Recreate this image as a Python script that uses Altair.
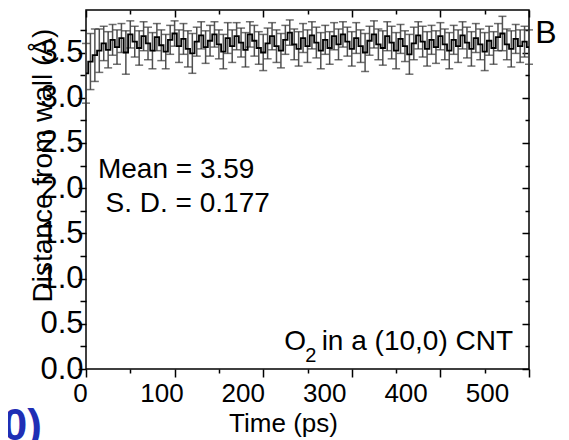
import altair as alt
import pandas as pd

# ---------------- data ----------------
time_ps = list(range(0, 505, 5))
distance = [3.27, 3.40, 3.47, 3.52, 3.60, 3.53, 3.64, 3.56, 3.66, 3.50,
            3.70, 3.62, 3.55, 3.68, 3.60, 3.52, 3.67, 3.58, 3.51, 3.64,
            3.71, 3.57, 3.65, 3.54, 3.49, 3.62, 3.69, 3.56, 3.63, 3.70,
            3.59, 3.51, 3.66, 3.57, 3.68, 3.61, 3.53, 3.70, 3.63, 3.55,
            3.50, 3.60, 3.68, 3.57, 3.52, 3.64, 3.72, 3.59, 3.54, 3.66,
            3.57, 3.69, 3.61, 3.52, 3.64, 3.55, 3.68, 3.59, 3.70, 3.62,
            3.54, 3.66, 3.57, 3.50, 3.63, 3.70, 3.59, 3.55, 3.68, 3.61,
            3.52, 3.65, 3.57, 3.48, 3.60, 3.69, 3.62, 3.54, 3.64, 3.56,
            3.68, 3.59, 3.52, 3.64, 3.57, 3.69, 3.61, 3.54, 3.66, 3.59,
            3.51, 3.63, 3.55, 3.67, 3.71, 3.59, 3.54, 3.65, 3.57, 3.62,
            3.56]
sd = [0.33, 0.31, 0.29, 0.24, 0.19, 0.20, 0.17, 0.19, 0.16, 0.24,
      0.15, 0.17, 0.19, 0.16, 0.18, 0.20, 0.15, 0.17, 0.19, 0.16,
      0.14, 0.18, 0.17, 0.20, 0.22, 0.16, 0.15, 0.18, 0.17, 0.14,
      0.16, 0.19, 0.17, 0.18, 0.15, 0.16, 0.19, 0.14, 0.17, 0.18,
      0.20, 0.17, 0.15, 0.18, 0.19, 0.16, 0.14, 0.17, 0.19, 0.16,
      0.18, 0.15, 0.17, 0.20, 0.16, 0.18, 0.15, 0.17, 0.14, 0.16,
      0.19, 0.17, 0.18, 0.21, 0.16, 0.15, 0.17, 0.19, 0.16, 0.18,
      0.20, 0.16, 0.17, 0.22, 0.18, 0.15, 0.17, 0.19, 0.16, 0.18,
      0.15, 0.17, 0.20, 0.16, 0.18, 0.15, 0.17, 0.19, 0.16, 0.17,
      0.21, 0.16, 0.18, 0.15, 0.19, 0.17, 0.20, 0.16, 0.18, 0.17,
      0.19]

x_major = [0, 100, 200, 300, 400, 500]
x_minor = [50, 150, 250, 350, 450]
y_major = [0.0, 0.5, 1.0, 1.5, 2.0, 2.5, 3.0, 3.5]
y_minor = [0.25, 0.75, 1.25, 1.75, 2.25, 2.75, 3.25, 3.75]

# annotation texts (data coordinates)
left_texts = ["Mean = 3.59", "S. D. = 0.177"]
left_x = [13.5, 22.1]
left_y = [2.108, 1.733]
panel_texts = ["B"]
panel_x = [507]
panel_y = [3.61]
right_texts = ["O", " in a (10,0) CNT"]
right_x = [248.3, 482]
right_y = [0.21, 0.21]
sub_texts = ["2"]
sub_x = [247.5]
sub_y = [0.077]
blue_texts = ["0)"]
blue_x = [-49.7]
blue_y = [-0.78]

X_DOM = [0, 500]
Y_DOM = [0, 3.97]
LABEL_RANGE = [-6, 401]   # tick labels of the reference sit on a slightly tighter spacing

FONT = "Liberation Sans"

df = pd.DataFrame({"t": time_ps, "d": distance,
                   "lo": [a - b for a, b in zip(distance, sd)],
                   "hi": [a + b for a, b in zip(distance, sd)]})


def tick_axis(orient, values, size, offset=0):
    return alt.Axis(orient=orient, values=values, tickSize=size, offset=offset,
                    labels=False, domain=False, grid=False, title="",
                    tickColor="black", tickWidth=1.5)


def xs(field, axis, scale=None):
    if scale is None:
        scale = alt.Scale(domain=X_DOM, nice=False, zero=False)
    return alt.X(f"{field}:Q", scale=scale, axis=axis)


def ys(field, axis):
    return alt.Y(f"{field}:Q", scale=alt.Scale(domain=Y_DOM, nice=False, zero=False), axis=axis)


base = alt.Chart(df)

left_axis = alt.Axis(orient="left", values=y_major, tickSize=8, labelPadding=-5,
                     format=".1f", labelFontSize=31, labelFont=FONT, labelColor="black",
                     domain=False, grid=False, tickColor="black", tickWidth=1.5,
                     title="Distance from wall (Å)", titleFontSize=28, titleFont=FONT,
                     titleFontWeight="normal", titleColor="black", titleAngle=270,
                     titleX=-35, titleY=155, titleAlign="center", titleBaseline="alphabetic")

bars = base.mark_rule(color="#505050", strokeWidth=1.5).encode(
    x=xs("t", tick_axis("bottom", x_major, 8)),
    y=ys("lo", left_axis),
    y2="hi",
)
caps_lo = base.mark_tick(orient="horizontal", size=8, thickness=1.5, color="#333333").encode(
    x=xs("t", tick_axis("bottom", x_minor, 4)),
    y=ys("lo", tick_axis("left", y_minor, 6)),
)
caps_hi = base.mark_tick(orient="horizontal", size=8, thickness=1.5, color="#333333").encode(
    x=xs("t", tick_axis("top", x_major, 7, offset=-7)),
    y=ys("hi", tick_axis("right", y_major, 7, offset=-7)),
)
line = base.mark_line(color="black", strokeWidth=1.8, interpolate="step").encode(
    x=xs("t", tick_axis("top", x_minor, 4, offset=-4)),
    y=ys("d", tick_axis("right", y_minor, 4, offset=-4)),
)

label_axis = alt.Axis(orient="bottom", values=x_major, ticks=False, domain=False, grid=False,
                      labelPadding=11, labelFontSize=26, labelFont=FONT, labelColor="black",
                      labelFlush=False, labelOverlap=False,
                      title="Time (ps)", titleFontSize=26, titleFont=FONT, titleFontWeight="normal",
                      titleColor="black", titleX=197, titleY=41, titleAlign="center",
                      titleBaseline="top")
labels_layer = base.mark_point(opacity=0).encode(
    x=xs("t", label_axis, scale=alt.Scale(domain=X_DOM, range=LABEL_RANGE, nice=False, zero=False)),
    y=ys("d", None),
)


def text_layer(texts, xv, yv, align, size, color="black", weight="normal"):
    tdf = pd.DataFrame({"x": xv, "y": yv, "label": texts})
    return alt.Chart(tdf).mark_text(align=align, baseline="alphabetic", fontSize=size,
                                    font=FONT, color=color, fontWeight=weight).encode(
        x=xs("x", None), y=ys("y", None), text="label:N")


txt_left = text_layer(left_texts, left_x, left_y, "left", 28)
txt_panel = text_layer(panel_texts, panel_x, panel_y, "left", 32)
txt_right = text_layer(right_texts, right_x, right_y, "right", 28)
txt_sub = text_layer(sub_texts, sub_x, sub_y, "left", 20)
txt_blue = text_layer(blue_texts, blue_x, blue_y, "right", 44, color="#1f2fb5", weight="bold")

chart = alt.layer(bars, caps_lo, caps_hi, line, labels_layer,
                  txt_left, txt_panel, txt_right, txt_sub, txt_blue).resolve_scale(
    x="independent", y="independent").resolve_axis(
    x="independent", y="independent").properties(
    width=443, height=359, autosize="none",
    padding={"left": 78, "top": 2, "right": 32, "bottom": 71},
    background="white",
).configure_view(stroke="black", strokeWidth=1.5)

chart.save("out.html", embed_options={"renderer": "svg", "actions": False})
